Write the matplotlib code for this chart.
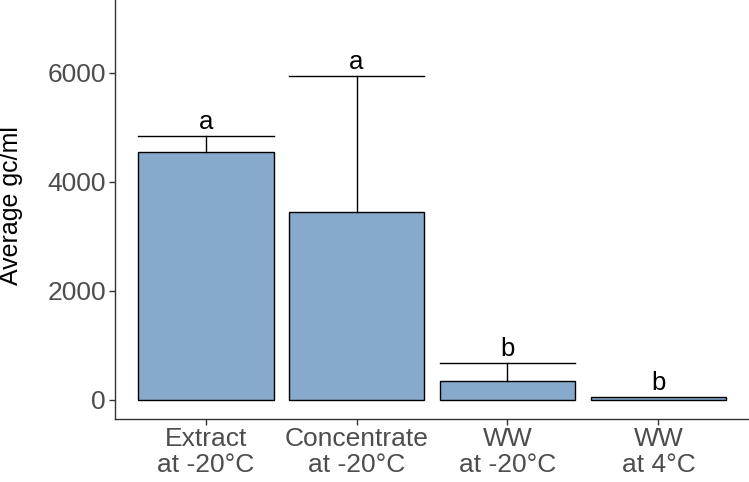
import matplotlib
matplotlib.use("Agg")
import matplotlib.pyplot as plt

categories = ["Extract\nat -20°C", "Concentrate\nat -20°C", "WW\nat -20°C", "WW\nat 4°C"]
means = [4556, 3455, 343, 50]
err_top = [4850, 5939, 684, 50]
letters = ["a", "a", "b", "b"]

plt.rcParams['font.family'] = ['Liberation Sans', 'DejaVu Sans']

fig = plt.figure(figsize=(7.49, 4.82), dpi=100)
ax = fig.add_axes([115/749, 63/482, 1 - 115/749, 1 - 63/482])

x = list(range(1, len(categories) + 1))
width = 0.9
ax.bar(x, means, width=width, color="#87A9CB", edgecolor="black", linewidth=1.0, zorder=2)

for xi, m, e, lab in zip(x, means, err_top, letters):
    if e > m:
        ax.plot([xi, xi], [m, e], color="black", lw=1.0, zorder=3)
        ax.plot([xi - width/2, xi + width/2], [e, e], color="black", lw=1.0, zorder=3)
    ax.annotate(lab, (xi, e), xytext=(0, 5), textcoords="offset points",
                ha="center", va="baseline", fontsize=18.5, color="black")

ax.set_xlim(0.4, 4.6)
ax.set_ylim(-349, 7339)
ax.set_yticks([0, 2000, 4000, 6000])
ax.set_xticks(x)
ax.set_xticklabels(categories, linespacing=1.15)
ax.set_ylabel("Average gc/ml", fontsize=18, color="black")
ax.yaxis.set_label_coords((23 - 115) / 634, 0.51)
ax.tick_params(axis="both", labelsize=19, labelcolor="#4D4D4D", color="#333333", length=4, width=1)
ax.tick_params(axis="x", pad=1.5)
ax.tick_params(axis="y", pad=2.5)
for s in ["top", "right"]:
    ax.spines[s].set_visible(False)
for s in ["left", "bottom"]:
    ax.spines[s].set_color("#333333")
    ax.spines[s].set_linewidth(1.0)

fig.savefig("out.png", dpi=100)
